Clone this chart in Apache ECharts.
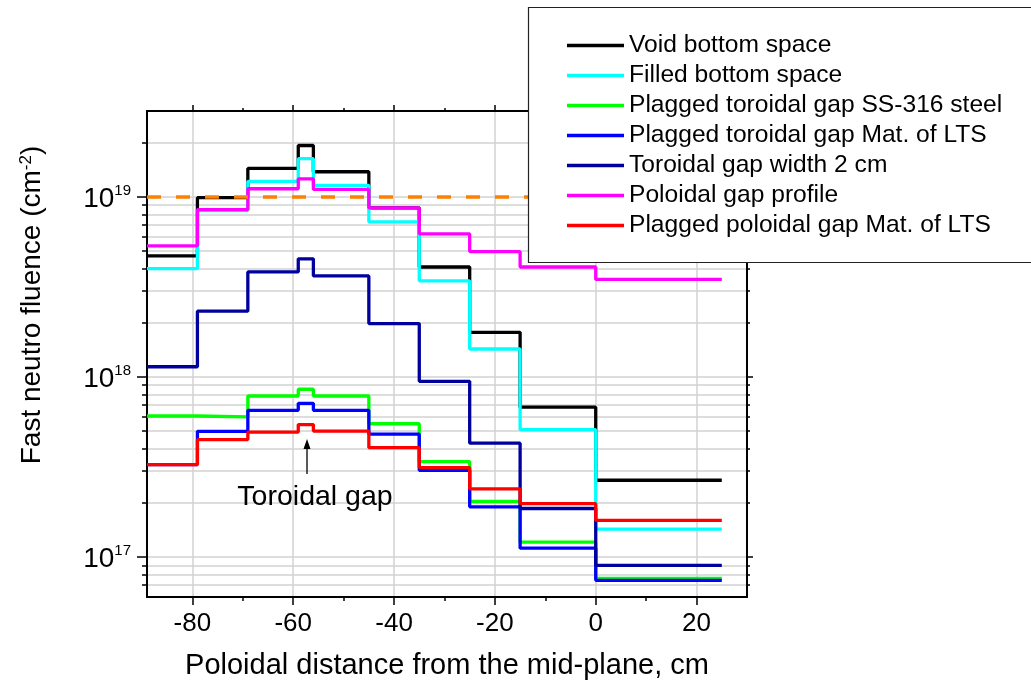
<!DOCTYPE html>
<html>
<head>
<meta charset="utf-8">
<script src="https://cdn.jsdelivr.net/npm/echarts@6/dist/echarts.min.js"></script>
<style>
  html, body { margin: 0; padding: 0; background: #fff; }
  #main { width: 1031px; height: 686px; }
</style>
</head>
<body>
<div id="main"></div>
<script>
// bin edges along the poloidal direction, cm
const binEdges = [-89, -79, -69, -59, -56, -45, -35, -25, -15, 0, 25]

// fast neutron fluence per bin, cm^-2
const voidBottom = [4.7e18, 9.9e18, 1.44e19, 1.93e19, 1.38e19, 8.7e18, 4.08e18, 1.77e18, 6.8e17, 2.67e17]
const filledBottom = [4.0e18, 8.4e18, 1.22e19, 1.63e19, 1.16e19, 7.26e18, 3.42e18, 1.43e18, 5.1e17, 1.43e17]
const pluggedSteel = [6.07e17, 6.0e17, 7.84e17, 8.55e17, 7.84e17, 5.5e17, 3.39e17, 2.04e17, 1.21e17, 7.6e16]
const pluggedLts = [3.26e17, 4.99e17, 6.53e17, 7.14e17, 6.53e17, 4.81e17, 3.03e17, 1.9e17, 1.12e17, 7.43e16]
const gapWidth2cm = [1.14e18, 2.32e18, 3.83e18, 4.53e18, 3.64e18, 1.98e18, 9.46e17, 4.29e17, 1.86e17, 9.0e16]
const poloidalProfile = [5.35e18, 8.5e18, 1.11e19, 1.26e19, 1.10e19, 8.69e18, 6.24e18, 4.97e18, 4.08e18, 3.48e18]
const pluggedPoloidalLts = [3.26e17, 4.49e17, 4.94e17, 5.44e17, 5.01e17, 4.05e17, 3.14e17, 2.39e17, 1.98e17, 1.6e17]

// design limit
const limitX = [-89, 30]
const limitFluence = 1e19

const seriesNames = [
  'Void bottom space',
  'Filled bottom space',
  'Plagged toroidal gap SS-316 steel',
  'Plagged toroidal gap Mat. of LTS',
  'Toroidal gap width 2 cm',
  'Poloidal gap profile',
  'Plagged poloidal gap Mat. of LTS'
]
const seriesColors = ['#000000', '#00FFFF', '#00FF00', '#0000FF', '#00009C', '#FF00FF', '#FF0000']
const seriesValues = [voidBottom, filledBottom, pluggedSteel, pluggedLts, gapWidth2cm, poloidalProfile, pluggedPoloidalLts]

// axes
const xMin = -89
const xMax = 30
const xMajorTicks = [-80, -60, -40, -20, 0, 20]
const xMinorTicks = [-70, -50, -30, -10, 10]
const yMin = 6e16
const yMax = 3e19
const yMajorTicks = [1e17, 1e18, 1e19]
const yMinorTicks = [7e16, 8e16, 9e16,
  2e17, 3e17, 4e17, 5e17, 6e17, 7e17, 8e17, 9e17,
  2e18, 3e18, 4e18, 5e18, 6e18, 7e18, 8e18, 9e18,
  2e19]

const FONT = "'Liberation Sans', Arial, sans-serif"
const LINE_W = 3.3

function stepPoints(values) {
  return binEdges.map((x, i) => [x, values[Math.min(i, values.length - 1)]])
}

const axisLine = { show: true, onZero: false, lineStyle: { color: '#000', width: 2 } }

function xAxisOf(position, ticks, len, extra) {
  return Object.assign({
    type: 'value', min: xMin, max: xMax, position: position,
    axisLine: axisLine,
    axisTick: { show: true, customValues: ticks, length: len, lineStyle: { color: '#000', width: 1.5 } },
    axisLabel: { show: false },
    splitLine: { show: false }
  }, extra || {})
}

function yAxisOf(position, ticks, len, extra) {
  return Object.assign({
    type: 'log', logBase: 10, min: yMin, max: yMax, position: position,
    axisLine: axisLine,
    axisTick: { show: true, customValues: ticks, length: len, lineStyle: { color: '#000', width: 1.5 } },
    axisLabel: { show: false },
    splitLine: { show: false }
  }, extra || {})
}

const myChart = echarts.init(document.getElementById('main'))

const series = seriesNames.map((name, i) => ({
  name: name,
  type: 'line',
  step: 'end',
  xAxisIndex: 0,
  yAxisIndex: 0,
  symbol: 'none',
  color: seriesColors[i],
  lineStyle: { width: LINE_W, color: seriesColors[i] },
  data: stepPoints(seriesValues[i]),
  z: 3 + i
}))

series.push({
  name: 'limit',
  type: 'line',
  xAxisIndex: 0,
  yAxisIndex: 0,
  symbol: 'none',
  color: '#FF8000',
  lineStyle: { width: 3.5, color: '#FF8000', type: [14, 15] },
  data: limitX.map(x => [x, limitFluence]),
  z: 20
})

const option = {
  animation: false,
  backgroundColor: '#fff',
  grid: { left: 147, right: 284, top: 111, bottom: 89, outerBoundsMode: 'none' },
  xAxis: [
    xAxisOf('bottom', xMajorTicks, 8, {
      name: 'Poloidal distance from the mid-plane, cm',
      nameLocation: 'middle',
      nameGap: 54,
      nameTextStyle: { fontFamily: FONT, fontSize: 29, color: '#000' },
      axisLabel: { show: true, customValues: xMajorTicks, margin: 14, fontFamily: FONT, fontSize: 26, color: '#000' },
      splitLine: { show: true, lineStyle: { color: '#d2d2d2', width: 1.5 } }
    }),
    xAxisOf('bottom', xMinorTicks, 4, { axisLine: { show: false, onZero: false } }),
    xAxisOf('top', xMajorTicks, 6),
    xAxisOf('top', xMinorTicks, 3, { axisLine: { show: false, onZero: false } })
  ],
  yAxis: [
    yAxisOf('left', yMinorTicks, 5, {
      splitLine: { show: true, lineStyle: { color: '#d2d2d2', width: 1.5 } }
    }),
    yAxisOf('left', yMajorTicks, 10, {
      axisLabel: {
        show: true, customValues: yMajorTicks, margin: 16,
        formatter: v => '{b|10}{s|' + Math.round(Math.log10(v)) + '}',
        rich: {
          b: { fontFamily: FONT, fontSize: 28, lineHeight: 28, color: '#000', padding: [5, 0, 0, 0] },
          s: { fontFamily: FONT, fontSize: 15, lineHeight: 15, color: '#000', verticalAlign: 'top' }
        }
      },
      splitLine: { show: true, lineStyle: { color: '#d2d2d2', width: 1.5 } }
    }),
    yAxisOf('right', yMinorTicks, 3),
    yAxisOf('right', yMajorTicks, 6)
  ],
  legend: {
    data: seriesNames,
    orient: 'vertical',
    left: 567,
    top: 30.5,
    padding: 0,
    itemGap: 0,
    icon: 'rect',
    itemWidth: 57,
    itemHeight: LINE_W,
    z: 60,
    textStyle: { fontFamily: FONT, fontSize: 24.6, color: '#000', lineHeight: 30 }
  },
  graphic: [
    {
      type: 'rect', z: 50, silent: true,
      shape: { x: 528.5, y: 7.5, width: 510, height: 255 },
      style: { fill: '#fff', stroke: '#222', lineWidth: 1.2 }
    },
    {
      type: 'text', z: 50, silent: true,
      x: 32, y: 305, rotation: Math.PI / 2,
      style: {
        text: '{a|Fast neutro fluence (cm}{s|-2}{a|)}',
        align: 'center', verticalAlign: 'middle',
        rich: {
          a: { fontFamily: FONT, fontSize: 28, fill: '#000' },
          s: { fontFamily: FONT, fontSize: 17, fill: '#000', verticalAlign: 'top' }
        }
      }
    },
    {
      type: 'text', z: 50, silent: true,
      x: 315, y: 497,
      style: { text: 'Toroidal gap', fontFamily: FONT, fontSize: 28.5, fill: '#000', align: 'center', verticalAlign: 'middle' }
    },
    {
      type: 'line', z: 50, silent: true,
      shape: { x1: 307, y1: 474, x2: 307, y2: 447 },
      style: { stroke: '#000', lineWidth: 1.3 }
    },
    {
      type: 'polygon', z: 50, silent: true,
      shape: { points: [[307, 439], [303.5, 449], [310.5, 449]] },
      style: { fill: '#000' }
    }
  ],
  series: series
}

myChart.setOption(option)
</script>
</body>
</html>
